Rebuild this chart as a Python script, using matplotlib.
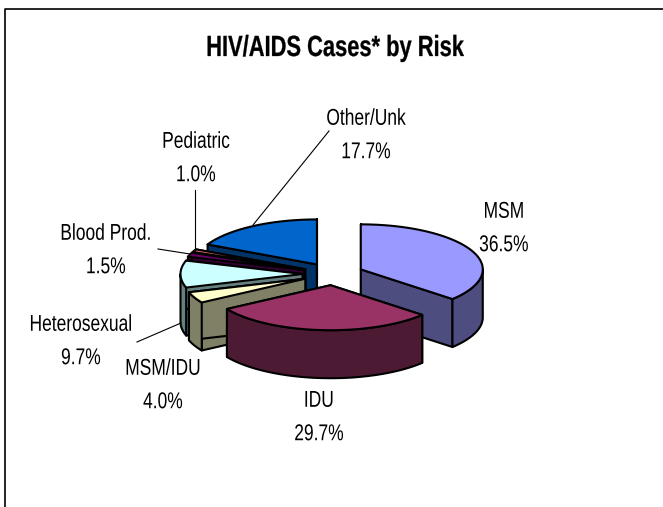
import numpy as np
import matplotlib
matplotlib.use('Agg')
import matplotlib.pyplot as plt
from matplotlib.patheffects import AbstractPathEffect
from matplotlib.transforms import Affine2D

names = ['MSM', 'IDU', 'MSM/IDU', 'Heterosexual', 'Blood Prod.', 'Pediatric', 'Other/Unk']
values = [36.5, 29.7, 4.0, 9.7, 1.5, 1.0, 17.7]
top_colors = ['#9999FF', '#993366', '#FFFFCC', '#CCFFFF', '#660066', '#FF8080', '#0066CC']
side_colors = ['#4D4D80', '#4D1A33', '#808066', '#668080', '#330033', '#804040', '#003366']
title = 'HIV/AIDS Cases* by Risk'

# back slices first so the front ones cover them
draw_order = [6, 5, 4, 3, 2, 0, 1]
label_pos = [(504, 228), (319, 417), (163, 385), (81, 341), (106, 250), (196, 158), (366, 135)]
leaders = [None, None, None,
           ((181, 323), (137, 342)),
           ((190, 254), (158, 249)),
           ((195, 251), (195, 190)),
           ((253, 225), (329, 131))]

cx, cy = 333, 274
rx, ry = 122, 45
depth = 48
explode = 0.25


class Squeeze(AbstractPathEffect):
    # the chart font is narrower than anything installed
    def __init__(self, sx, stroke=0):
        super().__init__()
        self.sx = sx
        self.stroke = stroke

    def draw_path(self, renderer, gc, tpath, affine, rgbFace=None):
        x = tpath.vertices[:, 0]
        mid = (x.min() + x.max()) / 2
        squeeze = Affine2D().translate(-mid, 0).scale(self.sx, 1).translate(mid, 0)
        gc0 = renderer.new_gc()
        gc0.copy_properties(gc)
        gc0.set_linewidth(self.stroke)
        gc0.set_foreground('black')
        renderer.draw_path(gc0, tpath, squeeze + affine, rgbFace)
        gc0.restore()


def arc(x0, y0, t0, t1):
    t = np.radians(np.linspace(t0, t1, 80))
    return x0 + rx * np.sin(t), y0 - ry * np.cos(t)


def draw_slice(ax, x0, y0, t0, t1, top, side):
    style = dict(edgecolor='black', linewidth=1.5, joinstyle='round')
    xs, ys = arc(x0, y0, t0, t1)
    # the two cut faces
    for i in (0, -1):
        ax.fill([x0, xs[i], xs[i], x0], [y0, ys[i], ys[i] + depth, y0 + depth],
                facecolor=side, **style)
    # outer wall, only the part that faces the viewer
    a, b = max(t0, 90), min(t1, 270)
    if a < b:
        wx, wy = arc(x0, y0, a, b)
        ax.fill(np.r_[wx, wx[::-1]], np.r_[wy, wy[::-1] + depth], facecolor=side, **style)
    ax.fill(np.r_[x0, xs], np.r_[y0, ys], facecolor=top, **style)


fig = plt.figure(figsize=(6.63, 5.07), dpi=100)
ax = fig.add_axes([0, 0, 1, 1])
ax.set_xlim(0, 663)
ax.set_ylim(507, 0)
ax.axis('off')

# chart frame, runs off the right and bottom of the picture
ax.plot([5, 5, 663], [507, 9, 9], color='black', linewidth=1.2)

edges = np.r_[0, np.cumsum(values)] / sum(values) * 360
for i in draw_order:
    t0, t1 = edges[i], edges[i + 1]
    mid = np.radians((t0 + t1) / 2)
    x0 = cx + explode * rx * np.sin(mid)
    y0 = cy - explode * ry * np.cos(mid)
    draw_slice(ax, x0, y0, t0, t1, top_colors[i], side_colors[i])

for i, name in enumerate(names):
    x, y = label_pos[i]
    ax.text(x, y, '%s\n%.1f%%' % (name, values[i]), ha='center', va='center',
            family='Liberation Sans', fontsize=16.5, linespacing=1.58, color='black',
            path_effects=[Squeeze(0.76)])
    if leaders[i]:
        p, q = leaders[i]
        ax.plot([p[0], q[0]], [p[1], q[1]], color='black', linewidth=0.8)

ax.text(335, 48, title, ha='center', va='center', family='Liberation Sans',
        fontsize=21, fontweight='bold', color='black', path_effects=[Squeeze(0.75, 0.2)])

fig.savefig('out.png', dpi=100)
